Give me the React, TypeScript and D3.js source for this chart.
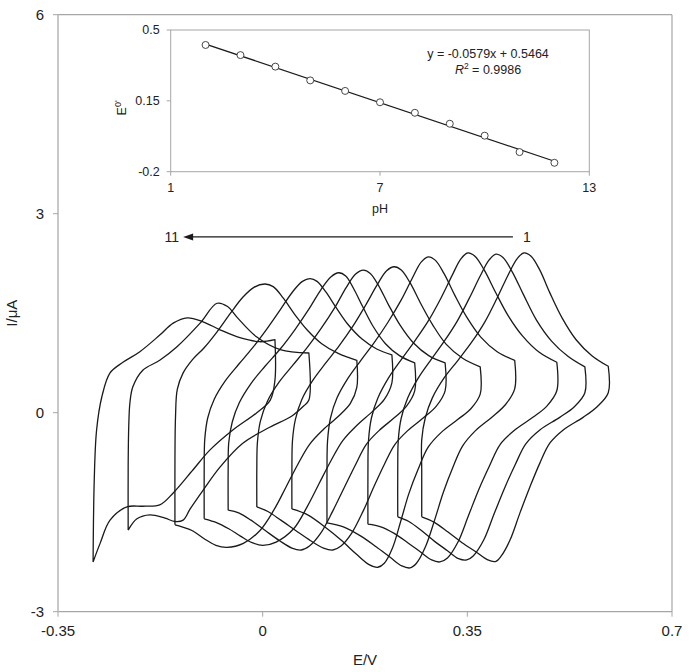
import React, { useEffect } from "react";
import * as d3 from "d3";

const W = 691;
const H = 672;

// inset: formal potential E0' against pH, with the printed linear fit
const pHValues = [2, 3, 4, 5, 6, 7, 8, 9, 10, 11, 12];
const e0Values = [0.426, 0.376, 0.319, 0.251, 0.199, 0.143, 0.091, 0.037, -0.022, -0.103, -0.156];
const fitSlope = -0.0579;
const fitIntercept = 0.5464;
const fitR2 = "0.9986";

const mainXTicks = [-0.35, 0, 0.35, 0.7];
const mainYTicks = [-3, 0, 3, 6];
const insetXTicks = [1, 7, 13];
const insetYTicks = [-0.2, 0.15, 0.5];

// arrow annotation "1" -> "11" (E/V from, E/V to, I/uA level)
const arrowSpan = [0.428, -0.136, 2.65];

// cyclic voltammograms, [E/V, I/uA], curve 1 (pH 2) ... curve 11 (pH 12)
const cv1 = [[0.272,-1.57],[0.272,-0.86],[0.272,-0.41],[0.278,-0.08],[0.290,0.22],[0.310,0.52],[0.334,0.79],[0.358,1.07],[0.380,1.37],[0.401,1.73],[0.420,2.08],[0.435,2.32],[0.447,2.41],[0.459,2.36],[0.474,2.15],[0.491,1.81],[0.512,1.43],[0.536,1.10],[0.563,0.86],[0.591,0.70],[0.591,0.30],[0.572,0.09],[0.548,-0.07],[0.514,-0.26],[0.491,-0.46],[0.474,-0.76],[0.457,-1.12],[0.440,-1.51],[0.423,-1.92],[0.408,-2.16],[0.399,-2.24],[0.385,-2.22],[0.365,-2.10],[0.341,-1.96],[0.317,-1.80],[0.293,-1.65],[0.272,-1.57]];
const cv2 = [[0.231,-1.57],[0.231,-0.86],[0.232,-0.40],[0.237,-0.08],[0.248,0.22],[0.266,0.52],[0.288,0.80],[0.310,1.07],[0.332,1.37],[0.353,1.72],[0.372,2.06],[0.387,2.30],[0.399,2.39],[0.411,2.34],[0.427,2.12],[0.446,1.78],[0.468,1.40],[0.494,1.08],[0.522,0.85],[0.551,0.69],[0.551,0.30],[0.533,0.09],[0.508,-0.07],[0.474,-0.26],[0.450,-0.47],[0.432,-0.78],[0.414,-1.13],[0.396,-1.52],[0.378,-1.92],[0.360,-2.16],[0.349,-2.22],[0.335,-2.20],[0.316,-2.08],[0.294,-1.94],[0.272,-1.78],[0.250,-1.64],[0.231,-1.57]];
const cv3 = [[0.180,-1.68],[0.180,-0.90],[0.181,-0.42],[0.186,-0.08],[0.197,0.22],[0.215,0.52],[0.237,0.80],[0.260,1.08],[0.283,1.38],[0.305,1.73],[0.324,2.07],[0.339,2.32],[0.351,2.41],[0.363,2.36],[0.379,2.15],[0.398,1.82],[0.420,1.46],[0.445,1.15],[0.473,0.91],[0.503,0.76],[0.503,0.33],[0.486,0.10],[0.462,-0.07],[0.430,-0.27],[0.406,-0.48],[0.388,-0.80],[0.370,-1.15],[0.352,-1.55],[0.334,-1.95],[0.316,-2.19],[0.303,-2.25],[0.289,-2.22],[0.270,-2.10],[0.248,-1.96],[0.225,-1.82],[0.202,-1.72],[0.180,-1.68]];
const cv4 = [[0.110,-1.66],[0.110,-0.90],[0.111,-0.42],[0.116,-0.08],[0.127,0.22],[0.146,0.52],[0.168,0.79],[0.191,1.06],[0.214,1.36],[0.237,1.70],[0.256,2.03],[0.271,2.27],[0.283,2.35],[0.295,2.30],[0.310,2.10],[0.328,1.78],[0.349,1.44],[0.373,1.14],[0.401,0.92],[0.431,0.79],[0.431,0.36],[0.415,0.12],[0.393,-0.06],[0.364,-0.27],[0.342,-0.50],[0.325,-0.83],[0.309,-1.20],[0.294,-1.62],[0.278,-2.03],[0.263,-2.27],[0.252,-2.34],[0.238,-2.31],[0.218,-2.18],[0.194,-2.02],[0.168,-1.86],[0.138,-1.72],[0.110,-1.66]];
const cv5 = [[0.050,-1.45],[0.050,-0.85],[0.051,-0.42],[0.056,-0.10],[0.067,0.20],[0.086,0.49],[0.108,0.75],[0.131,1.01],[0.154,1.30],[0.176,1.62],[0.196,1.93],[0.212,2.14],[0.225,2.20],[0.237,2.15],[0.252,1.96],[0.270,1.65],[0.291,1.32],[0.314,1.03],[0.342,0.82],[0.372,0.69],[0.372,0.28],[0.356,0.06],[0.334,-0.10],[0.305,-0.30],[0.283,-0.52],[0.266,-0.85],[0.250,-1.22],[0.236,-1.64],[0.222,-2.04],[0.208,-2.27],[0.197,-2.33],[0.182,-2.29],[0.160,-2.13],[0.134,-1.92],[0.106,-1.72],[0.077,-1.54],[0.050,-1.45]];
const cv6 = [[-0.010,-1.42],[-0.010,-0.85],[-0.009,-0.45],[-0.004,-0.13],[0.008,0.17],[0.028,0.46],[0.052,0.72],[0.076,0.98],[0.100,1.27],[0.123,1.58],[0.143,1.89],[0.159,2.09],[0.172,2.15],[0.184,2.10],[0.198,1.92],[0.215,1.63],[0.235,1.32],[0.258,1.05],[0.284,0.86],[0.312,0.75],[0.312,0.33],[0.297,0.10],[0.276,-0.07],[0.248,-0.27],[0.226,-0.48],[0.208,-0.78],[0.190,-1.12],[0.172,-1.48],[0.152,-1.82],[0.134,-2.01],[0.120,-2.07],[0.104,-2.04],[0.082,-1.93],[0.057,-1.78],[0.031,-1.62],[0.009,-1.49],[-0.010,-1.42]];
const cv7 = [[-0.059,-1.47],[-0.059,-0.85],[-0.058,-0.45],[-0.052,-0.14],[-0.040,0.15],[-0.020,0.44],[0.004,0.70],[0.030,0.96],[0.055,1.25],[0.079,1.56],[0.100,1.86],[0.117,2.05],[0.130,2.11],[0.142,2.06],[0.155,1.88],[0.171,1.60],[0.189,1.30],[0.210,1.04],[0.234,0.86],[0.260,0.75],[0.260,0.33],[0.246,0.10],[0.226,-0.07],[0.199,-0.27],[0.177,-0.48],[0.159,-0.78],[0.140,-1.12],[0.120,-1.48],[0.099,-1.82],[0.080,-2.01],[0.066,-2.07],[0.050,-2.04],[0.029,-1.93],[0.005,-1.78],[-0.020,-1.62],[-0.041,-1.51],[-0.059,-1.47]];
const cv8 = [[-0.100,-1.60],[-0.100,-0.85],[-0.099,-0.40],[-0.094,-0.08],[-0.083,0.20],[-0.064,0.48],[-0.041,0.73],[-0.017,0.98],[0.007,1.26],[0.030,1.55],[0.051,1.82],[0.068,1.98],[0.081,2.02],[0.093,1.98],[0.108,1.82],[0.126,1.58],[0.146,1.33],[0.170,1.11],[0.195,0.96],[0.221,0.87],[0.221,0.45],[0.208,0.20],[0.188,0.02],[0.160,-0.20],[0.137,-0.42],[0.117,-0.72],[0.097,-1.06],[0.076,-1.42],[0.053,-1.75],[0.023,-1.95],[0.000,-2.00],[-0.018,-1.96],[-0.038,-1.86],[-0.058,-1.75],[-0.078,-1.66],[-0.100,-1.60]];
const cv9 = [[-0.150,-1.69],[-0.150,-0.70],[-0.149,-0.05],[-0.146,0.35],[-0.136,0.60],[-0.120,0.80],[-0.100,0.98],[-0.078,1.22],[-0.055,1.50],[-0.034,1.74],[-0.015,1.89],[0.004,1.94],[0.018,1.90],[0.035,1.73],[0.055,1.48],[0.077,1.24],[0.101,1.04],[0.130,0.89],[0.161,0.79],[0.161,0.38],[0.150,0.14],[0.130,-0.05],[0.103,-0.26],[0.080,-0.48],[0.060,-0.78],[0.040,-1.12],[0.019,-1.47],[-0.005,-1.78],[-0.033,-1.97],[-0.061,-2.03],[-0.080,-2.00],[-0.100,-1.90],[-0.120,-1.78],[-0.138,-1.72],[-0.150,-1.69]];
const cv10 = [[-0.230,-1.77],[-0.230,-0.80],[-0.229,-0.20],[-0.227,0.15],[-0.222,0.39],[-0.205,0.64],[-0.176,0.79],[-0.147,0.99],[-0.107,1.35],[-0.078,1.65],[-0.060,1.60],[-0.044,1.44],[-0.010,1.14],[0.030,0.95],[0.079,0.90],[0.079,0.19],[0.070,0.10],[0.050,-0.05],[0.012,-0.22],[-0.034,-0.46],[-0.073,-0.82],[-0.102,-1.17],[-0.124,-1.45],[-0.136,-1.62],[-0.150,-1.64],[-0.167,-1.59],[-0.193,-1.54],[-0.215,-1.60],[-0.230,-1.77]];
const cv11 = [[-0.290,-2.25],[-0.288,-1.01],[-0.284,-0.26],[-0.275,0.24],[-0.261,0.60],[-0.239,0.76],[-0.210,0.92],[-0.176,1.17],[-0.153,1.35],[-0.129,1.43],[-0.102,1.37],[-0.073,1.25],[-0.039,1.13],[-0.005,1.07],[0.021,1.10],[0.021,0.49],[0.013,0.19],[-0.010,0.00],[-0.051,-0.26],[-0.090,-0.56],[-0.119,-0.86],[-0.153,-1.21],[-0.176,-1.39],[-0.205,-1.41],[-0.232,-1.42],[-0.261,-1.62],[-0.278,-1.97],[-0.290,-2.25]];

const voltammograms = [cv1, cv2, cv3, cv4, cv5, cv6, cv7, cv8, cv9, cv10, cv11];

const FONT = "'Liberation Sans', Arial, sans-serif";
const AXIS = "#a6a6a6";
const TEXT = "#222";

export default function App() {
  useEffect(() => {
    document.body.style.margin = "0";
  }, []);

  // main plot area
  const x = d3.scaleLinear().domain([-0.35, 0.7]).range([58, 672]);
  const y = d3.scaleLinear().domain([-3, 6]).range([611.7, 14.7]);

  // inset area
  const ix = d3.scaleLinear().domain([1, 13]).range([170.7, 589.3]);
  const iy = d3.scaleLinear().domain([-0.2, 0.5]).range([171.7, 30]);

  const cvLine = d3
    .line<number[]>()
    .x((d) => x(d[0]))
    .y((d) => y(d[1]))
    .curve(d3.curveCatmullRom.alpha(0.5));

  // forward scan and reverse scan are smoothed separately so the
  // switching corner at the positive end stays sharp
  const cvPath = (cv: number[][]) => {
    const eMax = d3.max(cv, (d) => d[0]) as number;
    const k = cv.findIndex((d) => d[0] === eMax);
    const fwd = cvLine(cv.slice(0, k + 1)) || "";
    const rev = (cvLine(cv.slice(k)) || "").replace(/^M[^CLQ]*/, "");
    return fwd + rev;
  };

  const fitLine = d3
    .line<number>()
    .x((p) => ix(p))
    .y((p) => iy(fitSlope * p + fitIntercept));

  const [aFrom, aTo, aLevel] = arrowSpan;
  const ay = y(aLevel);

  return (
    <svg width={W} height={H} style={{ display: "block", background: "#fff" }} fontFamily={FONT}>
      {/* main frame */}
      <line x1={x(-0.35)} x2={x(0.7)} y1={y(6)} y2={y(6)} stroke={AXIS} strokeWidth={1.2} />
      <line x1={x(0.7)} x2={x(0.7)} y1={y(6)} y2={y(-3)} stroke={AXIS} strokeWidth={1.2} />
      <line x1={x(-0.35)} x2={x(0.7)} y1={y(-3)} y2={y(-3)} stroke={AXIS} strokeWidth={1.2} />
      <line x1={x(-0.35)} x2={x(-0.35)} y1={y(6)} y2={y(-3)} stroke="#c8c8c8" strokeWidth={2} />

      {mainYTicks.map((t) => (
        <g key={"my" + t}>
          <line x1={x(-0.35) - 5} x2={x(-0.35)} y1={y(t)} y2={y(t)} stroke={AXIS} />
          <text x={x(-0.35) - 14} y={y(t)} dy="0.35em" textAnchor="end" fontSize={15} fill={TEXT}>
            {t}
          </text>
        </g>
      ))}
      {mainXTicks.map((t) => (
        <g key={"mx" + t}>
          <line x1={x(t)} x2={x(t)} y1={y(-3)} y2={y(-3) + 5} stroke={AXIS} />
          <text x={x(t)} y={y(-3) + 24} textAnchor="middle" fontSize={15} fill={TEXT}>
            {t}
          </text>
        </g>
      ))}
      <text x={(x(-0.35) + x(0.7)) / 2} y={665} textAnchor="middle" fontSize={15} fill={TEXT}>
        E/V
      </text>
      <text
        transform={`translate(17,${(y(6) + y(-3)) / 2}) rotate(-90)`}
        textAnchor="middle"
        fontSize={15}
        fill={TEXT}
      >
        I/μA
      </text>

      {/* voltammograms */}
      {voltammograms.map((cv, i) => (
        <path
          key={"cv" + i}
          d={cvPath(cv)}
          fill="none"
          stroke="#1a1a1a"
          strokeWidth={1.3}
          strokeLinejoin="round"
        />
      ))}

      {/* arrow 1 -> 11 */}
      <line x1={x(aFrom)} x2={x(aTo) + 8} y1={ay} y2={ay} stroke="#1a1a1a" strokeWidth={1.2} />
      <path
        d={`M${x(aTo)},${ay} L${x(aTo) + 10},${ay - 3.5} L${x(aTo) + 10},${ay + 3.5} Z`}
        fill="#1a1a1a"
      />
      <text x={x(aFrom) + 10} y={ay} dy="0.35em" fontSize={14} fill={TEXT}>
        1
      </text>
      <text x={x(aTo) - 4} y={ay} dy="0.35em" textAnchor="end" fontSize={14} fill={TEXT}>
        11
      </text>

      {/* inset */}
      <rect
        x={ix(1)}
        y={iy(0.5)}
        width={ix(13) - ix(1)}
        height={iy(-0.2) - iy(0.5)}
        fill="none"
        stroke={AXIS}
        strokeWidth={1}
      />
      {insetYTicks.map((t) => (
        <g key={"iy" + t}>
          <line x1={ix(1) - 4} x2={ix(1)} y1={iy(t)} y2={iy(t)} stroke={AXIS} />
          <text x={ix(1) - 11} y={iy(t)} dy="0.35em" textAnchor="end" fontSize={12.5} fill={TEXT}>
            {t}
          </text>
        </g>
      ))}
      {insetXTicks.map((t) => (
        <g key={"ix" + t}>
          <line x1={ix(t)} x2={ix(t)} y1={iy(-0.2)} y2={iy(-0.2) + 4} stroke={AXIS} />
          <text x={ix(t)} y={iy(-0.2) + 20} textAnchor="middle" fontSize={12.5} fill={TEXT}>
            {t}
          </text>
        </g>
      ))}
      <text x={(ix(1) + ix(13)) / 2} y={213} textAnchor="middle" fontSize={12.5} fill={TEXT}>
        pH
      </text>
      <text
        transform={`translate(126,${(iy(0.5) + iy(-0.2)) / 2 + 7}) rotate(-90)`}
        textAnchor="middle"
        fontSize={12.5}
        fill={TEXT}
      >
        E<tspan dy="-5" fontSize={9}>0'</tspan>
      </text>

      <path
        d={fitLine([pHValues[0], pHValues[pHValues.length - 1]]) || ""}
        stroke="#1a1a1a"
        strokeWidth={1.3}
        fill="none"
      />
      {pHValues.map((p, i) => (
        <circle key={"pt" + p} cx={ix(p)} cy={iy(e0Values[i])} r={3.5} fill="#fff" stroke="#333" strokeWidth={0.9} />
      ))}
      <text x={488} y={58} textAnchor="middle" fontSize={12.5} fill={TEXT}>
        {`y = ${fitSlope}x + ${fitIntercept}`}
      </text>
      <text x={488} y={74} textAnchor="middle" fontSize={12.5} fill={TEXT}>
        <tspan fontStyle="italic">R</tspan>
        <tspan dy="-5" fontSize={8.5}>2</tspan>
        <tspan dy="5">{` = ${fitR2}`}</tspan>
      </text>
    </svg>
  );
}
